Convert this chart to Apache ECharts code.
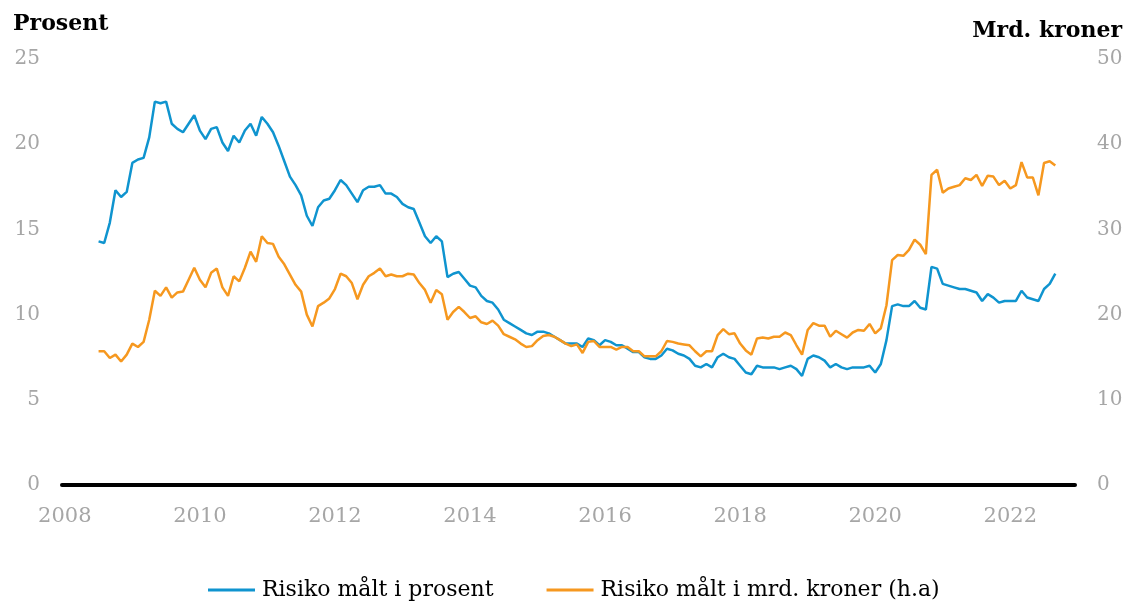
<!DOCTYPE html>
<html>
<head>
<meta charset="utf-8">
<script src="https://cdn.jsdelivr.net/npm/echarts@6/dist/echarts.min.js"></script>
<style>
  html, body { margin: 0; padding: 0; background: #fff; }
  #chart { width: 1133px; height: 604px; }
</style>
</head>
<body>
<div id="chart"></div>
<script>
// måned for måned, første verdi = juli 2008, siste = september 2022
var firstYear = 2008;
var lastYear = 2022;
var startMonth = 6; // juli (0 = januar)
var yearTicks = ['2008', '2010', '2012', '2014', '2016', '2018', '2020', '2022'];

// Risiko målt i prosent (venstre akse)
var prosent = [
    14.3, 14.2, 15.4, 17.3, 16.9, 17.2,                               // 2008 jul-des
    18.9, 19.1, 19.2, 20.4, 22.5, 22.4, 22.5, 21.2, 20.9, 20.7, 21.2, 21.7, // 2009
    20.8, 20.3, 20.9, 21.0, 20.1, 19.6, 20.5, 20.1, 20.8, 21.2, 20.5, 21.6, // 2010
    21.2, 20.7, 19.9, 19.0, 18.1, 17.6, 17.0, 15.8, 15.2, 16.3, 16.7, 16.8, // 2011
    17.3, 17.9, 17.6, 17.1, 16.6, 17.3, 17.5, 17.5, 17.6, 17.1, 17.1, 16.9, // 2012
    16.5, 16.3, 16.2, 15.4, 14.6, 14.2, 14.6, 14.3, 12.2, 12.4, 12.5, 12.1, // 2013
    11.7, 11.6, 11.1, 10.8, 10.7, 10.3, 9.7, 9.5, 9.3, 9.1, 8.9, 8.8,       // 2014
    9.0, 9.0, 8.9, 8.7, 8.5, 8.3, 8.3, 8.3, 8.1, 8.6, 8.5, 8.2,             // 2015
    8.5, 8.4, 8.2, 8.2, 8.0, 7.8, 7.8, 7.5, 7.4, 7.4, 7.6, 8.0,             // 2016
    7.9, 7.7, 7.6, 7.4, 7.0, 6.9, 7.1, 6.9, 7.5, 7.7, 7.5, 7.4,             // 2017
    7.0, 6.6, 6.5, 7.0, 6.9, 6.9, 6.9, 6.8, 6.9, 7.0, 6.8, 6.4,             // 2018
    7.4, 7.6, 7.5, 7.3, 6.9, 7.1, 6.9, 6.8, 6.9, 6.9, 6.9, 7.0,             // 2019
    6.6, 7.1, 8.5, 10.5, 10.6, 10.5, 10.5, 10.8, 10.4, 10.3, 12.8, 12.7,    // 2020
    11.8, 11.7, 11.6, 11.5, 11.5, 11.4, 11.3, 10.8, 11.2, 11.0, 10.7, 10.8, // 2021
    10.8, 10.8, 11.4, 11.0, 10.9, 10.8, 11.5, 11.8, 12.4                    // 2022 jan-sep
];

// Risiko målt i mrd. kroner (høyre akse)
var mrdKroner = [
    15.7, 15.7, 14.9, 15.3, 14.5, 15.3,                               // 2008 jul-des
    16.6, 16.2, 16.8, 19.4, 22.8, 22.2, 23.2, 22.0, 22.6, 22.7, 24.1, 25.5, // 2009
    24.1, 23.2, 24.9, 25.4, 23.2, 22.2, 24.5, 23.9, 25.5, 27.4, 26.2, 29.2, // 2010
    28.4, 28.3, 26.8, 25.9, 24.7, 23.5, 22.7, 20.0, 18.6, 21.0, 21.4, 21.9, // 2011
    23.0, 24.8, 24.5, 23.7, 21.8, 23.5, 24.5, 24.9, 25.4, 24.5, 24.7, 24.5, // 2012
    24.5, 24.8, 24.7, 23.7, 22.9, 21.4, 22.9, 22.4, 19.4, 20.3, 20.9, 20.3, // 2013
    19.6, 19.8, 19.1, 18.9, 19.3, 18.7, 17.7, 17.4, 17.1, 16.6, 16.2, 16.3, // 2014
    17.0, 17.5, 17.6, 17.4, 17.0, 16.6, 16.3, 16.5, 15.5, 16.8, 16.9, 16.2, // 2015
    16.2, 16.2, 15.9, 16.2, 16.2, 15.7, 15.7, 15.1, 15.1, 15.1, 15.7, 16.9, // 2016
    16.8, 16.6, 16.5, 16.4, 15.7, 15.1, 15.7, 15.7, 17.6, 18.3, 17.7, 17.8, // 2017
    16.6, 15.8, 15.3, 17.2, 17.3, 17.2, 17.4, 17.4, 17.9, 17.6, 16.4, 15.3, // 2018
    18.2, 19.0, 18.7, 18.7, 17.4, 18.1, 17.7, 17.3, 17.9, 18.2, 18.1, 18.9, // 2019
    17.8, 18.4, 21.1, 26.4, 27.0, 26.9, 27.6, 28.8, 28.2, 27.1, 36.4, 37.0, // 2020
    34.3, 34.8, 35.0, 35.2, 36.0, 35.8, 36.4, 35.1, 36.3, 36.2, 35.2, 35.7, // 2021
    34.8, 35.2, 37.9, 36.1, 36.1, 34.0, 37.8, 38.0, 37.5                    // 2022 jan-sep
];

var months = [];
for (var y = firstYear; y <= lastYear; y++) {
    for (var m = 1; m <= 12; m++) {
        months.push(y + '-' + (m < 10 ? '0' + m : m));
    }
}

function padSeries(values) {
    var out = [];
    for (var i = 0; i < months.length; i++) {
        var j = i - startMonth;
        out.push(j >= 0 && j < values.length ? values[j] : null);
    }
    return out;
}

var chart = echarts.init(document.getElementById('chart'));

var serif = 'DejaVu Serif';
var grey = '#a6a6a6';

var option = {
    animation: false,
    title: [
        {
            text: 'Prosent',
            left: 8,
            top: 8,
            textStyle: { fontFamily: serif, fontWeight: 'bold', fontSize: 22, color: '#000' }
        },
        {
            text: 'Mrd. kroner',
            right: 6,
            top: 15,
            textStyle: { fontFamily: serif, fontWeight: 'bold', fontSize: 22, color: '#000' }
        }
    ],
    legend: {
        top: 579,
        left: 208,
        padding: 0,
        icon: 'rect',
        itemWidth: 47,
        itemHeight: 3,
        itemGap: 53,
        textStyle: { fontFamily: serif, fontSize: 22, color: '#000', padding: [0, 0, 0, 2] },
        data: ['Risiko målt i prosent', 'Risiko målt i mrd. kroner (h.a)']
    },
    grid: {
        left: 62,
        right: 58,
        top: 59,
        bottom: 119
    },
    xAxis: {
        type: 'category',
        data: months,
        boundaryGap: true,
        axisLine: { show: true, lineStyle: { color: '#000', width: 4 } },
        axisTick: { show: false },
        axisLabel: {
            interval: function (index, value) {
                return yearTicks.indexOf(value.slice(0, 4)) >= 0 && value.slice(5) === '01';
            },
            formatter: function (value) {
                return value.slice(0, 4);
            },
            margin: 21,
            fontFamily: serif,
            fontSize: 21,
            color: grey
        }
    },
    yAxis: [
        {
            type: 'value',
            min: 0,
            max: 25,
            interval: 5,
            splitLine: { show: false },
            axisLine: { show: false },
            axisTick: { show: false },
            axisLabel: { margin: 22, fontFamily: serif, fontSize: 20, color: grey }
        },
        {
            type: 'value',
            min: 0,
            max: 50,
            interval: 10,
            splitLine: { show: false },
            axisLine: { show: false },
            axisTick: { show: false },
            axisLabel: { margin: 22, fontFamily: serif, fontSize: 20, color: grey }
        }
    ],
    series: [
        {
            name: 'Risiko målt i prosent',
            type: 'line',
            yAxisIndex: 0,
            symbol: 'none',
            connectNulls: false,
            lineStyle: { color: '#0f94cf', width: 2.5 },
            itemStyle: { color: '#0f94cf' },
            data: padSeries(prosent)
        },
        {
            name: 'Risiko målt i mrd. kroner (h.a)',
            type: 'line',
            yAxisIndex: 1,
            symbol: 'none',
            connectNulls: false,
            lineStyle: { color: '#f6981f', width: 2.5 },
            itemStyle: { color: '#f6981f' },
            data: padSeries(mrdKroner)
        }
    ]
};

chart.setOption(option);
</script>
</body>
</html>
